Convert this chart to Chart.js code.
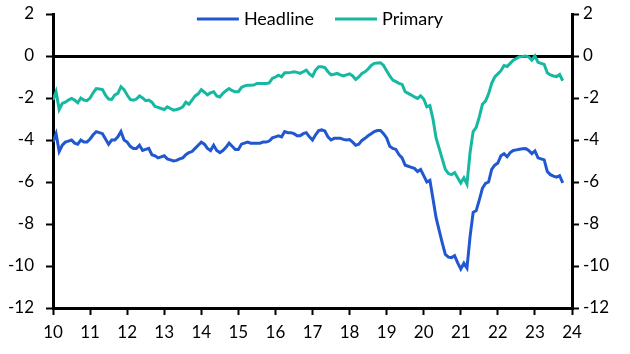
<!DOCTYPE html>
<html>
<head>
<meta charset="utf-8">
<script src="https://cdn.jsdelivr.net/npm/chart.js@4.4.1/dist/chart.umd.min.js"></script>
<style>
    html, body { margin: 0; padding: 0; background: #fff; }
    canvas { display: block; }
</style>
</head>
<body>
<canvas id="myChart" width="630" height="354"></canvas>
<script>
// monthly data, Jan 2010 onwards (x axis in years, 10 = 2010)
let startYear = 10;
let xTicks = [10, 11, 12, 13, 14, 15, 16, 17, 18, 19, 20, 21, 22, 23, 24];
let xTickLabels = ["10", "11", "12", "13", "14", "15", "16", "17", "18", "19", "20", "21", "22", "23", "24"];
let yTicks = [-12, -10, -8, -6, -4, -2, 0, 2];
let yTickLabels = ["-12", "-10", "-8", "-6", "-4", "-2", "0", "2"];

let headline = [
    -4.1, -3.7, -4.55, -4.25, -4.1, -4.05, -4.0, -4.15, -4.2,
    -4.0, -4.1, -4.1, -3.95, -3.75, -3.6, -3.65, -3.7, -3.95, -4.2, -4.0, -4.0,
    -3.85, -3.6, -4.0, -4.1, -4.3, -4.4, -4.4, -4.25, -4.5, -4.45, -4.4, -4.7,
    -4.75, -4.85, -4.8, -4.75, -4.9, -4.95, -5.0, -4.97, -4.9, -4.85, -4.7, -4.6,
    -4.55, -4.4, -4.25, -4.1, -4.2, -4.4, -4.5, -4.25, -4.5, -4.6, -4.5, -4.35,
    -4.15, -4.3, -4.45, -4.45, -4.2, -4.15, -4.1, -4.15, -4.15, -4.15, -4.15, -4.1, -4.1,
    -4.05, -3.9, -3.85, -3.8, -3.85, -3.6, -3.65, -3.65, -3.7, -3.8, -3.8, -3.7,
    -3.65, -3.85, -4.0, -3.75, -3.55, -3.52, -3.57, -3.85, -4.0, -3.92, -3.92, -3.92,
    -3.97, -4.0, -3.98, -4.1, -4.25, -4.2, -4.02, -3.92, -3.8, -3.7, -3.6, -3.55,
    -3.55, -3.7, -3.9, -4.3, -4.4, -4.45, -4.7, -4.85, -5.2, -5.25, -5.3, -5.35,
    -5.5, -5.4, -5.7, -6.0, -5.92, -6.8, -7.7, -8.3, -8.9, -9.45, -9.58, -9.6,
    -9.51, -9.85, -10.14, -9.87, -10.1, -8.6, -7.45, -7.36, -6.85, -6.3, -6.07, -6.0,
    -5.4, -5.2, -5.1, -4.75, -4.65, -4.8, -4.6, -4.5, -4.47, -4.44, -4.42, -4.41,
    -4.5, -4.65, -4.52, -4.85, -4.9, -4.95, -5.5, -5.65, -5.72, -5.77, -5.7, -6.04
];

let primary = [
    -2.1, -1.7, -2.55, -2.26, -2.2, -2.1, -2.02, -2.1, -2.23,
    -2.0, -2.1, -2.13, -2.0, -1.75, -1.55, -1.57, -1.6, -1.86, -2.05, -2.07, -1.85,
    -1.78, -1.46, -1.6, -1.86, -2.07, -2.1, -2.05, -1.9, -2.0, -2.13, -2.1, -2.2,
    -2.4, -2.45, -2.5, -2.55, -2.42, -2.5, -2.58, -2.55, -2.5, -2.42, -2.2, -2.3,
    -2.1, -1.9, -1.8, -1.6, -1.72, -1.85, -1.75, -1.7, -1.9, -1.95, -1.78, -1.65,
    -1.55, -1.65, -1.7, -1.7, -1.5, -1.42, -1.39, -1.39, -1.38, -1.31, -1.31, -1.31, -1.31,
    -1.28, -1.07, -1.0, -0.91, -0.99, -0.8, -0.8, -0.78, -0.75, -0.78, -0.83, -0.75,
    -0.67, -0.85, -0.96, -0.67, -0.51, -0.51, -0.55, -0.75, -0.9, -0.87, -0.83, -0.9,
    -0.95, -0.9, -0.85, -0.95, -1.12, -1.0, -0.83, -0.75, -0.62, -0.45, -0.35, -0.33,
    -0.32, -0.45, -0.7, -0.95, -1.15, -1.22, -1.3, -1.35, -1.7, -1.78, -1.86, -1.95,
    -2.02, -1.9, -2.05, -2.42, -2.36, -3.0, -3.9, -4.4, -4.9, -5.4, -5.6, -5.65,
    -5.55, -5.8, -6.05, -5.8, -6.1, -4.6, -3.6, -3.4, -2.9, -2.3, -2.15, -1.8,
    -1.3, -1.0, -0.85, -0.7, -0.45, -0.5, -0.35, -0.2, -0.12, -0.03, -0.02, 0,
    -0.05, -0.2, 0, -0.3, -0.35, -0.4, -0.8, -0.9, -0.95, -0.98, -0.88, -1.18
];

let fontFamily = "Lato, 'Noto Sans', sans-serif";
let tickFont = { family: fontFamily, size: 17 };

function toPoints(values) {
    return values.map((v, i) => ({ x: startYear + i / 12, y: v }));
}

// legend drawn inside the plot, above the lines
let topLegend = {
    id: "topLegend",
    afterDraw(chart) {
        let ctx = chart.ctx;
        let items = chart.data.datasets;
        let lineLen = 42, gap = 5, itemGap = 21;
        ctx.save();
        ctx.font = "18px " + fontFamily;
        let total = 0;
        items.forEach((d, i) => {
            total += lineLen + gap + ctx.measureText(d.label).width;
            if (i < items.length - 1) total += itemGap;
        });
        let x = 320 - total / 2;
        let y = 19;
        items.forEach(d => {
            ctx.strokeStyle = d.borderColor;
            ctx.lineWidth = 3;
            ctx.beginPath();
            ctx.moveTo(x, y);
            ctx.lineTo(x + lineLen, y);
            ctx.stroke();
            x += lineLen + gap;
            ctx.fillStyle = "#000";
            ctx.textBaseline = "middle";
            ctx.fillText(d.label, x, y);
            x += ctx.measureText(d.label).width + itemGap;
        });
        ctx.restore();
    }
};

function yAxis(position, width, padding, zeroLine) {
    return {
        type: "linear",
        position: position,
        min: -12,
        max: 2,
        afterBuildTicks: scale => { scale.ticks = yTicks.map(v => ({ value: v })); },
        afterFit: scale => {
            scale.width = width;
            scale.paddingTop = 0;
            scale.paddingBottom = 0;
        },
        ticks: {
            color: "#000",
            font: tickFont,
            padding: padding,
            callback: (value) => yTickLabels[yTicks.indexOf(value)],
        },
        grid: {
            drawOnChartArea: zeroLine,
            color: c => (c.tick && c.tick.value === 0) ? "#000" : "rgba(0,0,0,0)",
            lineWidth: 3,
            drawTicks: true,
            tickLength: 7,
            tickColor: "#000",
            tickWidth: 2,
        },
        border: { color: "#000", width: 3 },
    };
}

let ctx = document.getElementById("myChart").getContext("2d");
let myChart = new Chart(ctx, {
    type: "line",
    data: {
        datasets: [
            {
                label: "Headline",
                data: toPoints(headline),
                borderColor: "#2157d0",
                backgroundColor: "#2157d0",
                borderWidth: 3,
                pointRadius: 0,
                yAxisID: "y",
            },
            {
                label: "Primary",
                data: toPoints(primary),
                borderColor: "#17b8a2",
                backgroundColor: "#17b8a2",
                borderWidth: 3,
                pointRadius: 0,
                yAxisID: "y",
            },
        ],
    },
    options: {
        responsive: false,
        animation: false,
        devicePixelRatio: 1,
        layout: { padding: { top: 14, left: 0, right: 0, bottom: 0 } },
        plugins: {
            legend: { display: false },
            tooltip: { enabled: false },
        },
        scales: {
            x: {
                type: "linear",
                min: 10,
                max: 24,
                afterBuildTicks: scale => { scale.ticks = xTicks.map(v => ({ value: v })); },
                afterFit: scale => {
                    scale.height = 46;
                    scale.paddingLeft = 0;
                    scale.paddingRight = 0;
                },
                ticks: {
                    color: "#000",
                    font: tickFont,
                    padding: 7,
                    maxRotation: 0,
                    autoSkip: false,
                    callback: (value) => xTickLabels[xTicks.indexOf(value)],
                },
                grid: {
                    drawOnChartArea: false,
                    drawTicks: true,
                    tickLength: 7,
                    tickColor: "#000",
                    tickWidth: 2,
                },
                border: { color: "#000", width: 3 },
            },
            y: yAxis("left", 53, 12, true),
            y2: yAxis("right", 58, 4, false),
        },
    },
    plugins: [topLegend],
});
</script>
</body>
</html>
